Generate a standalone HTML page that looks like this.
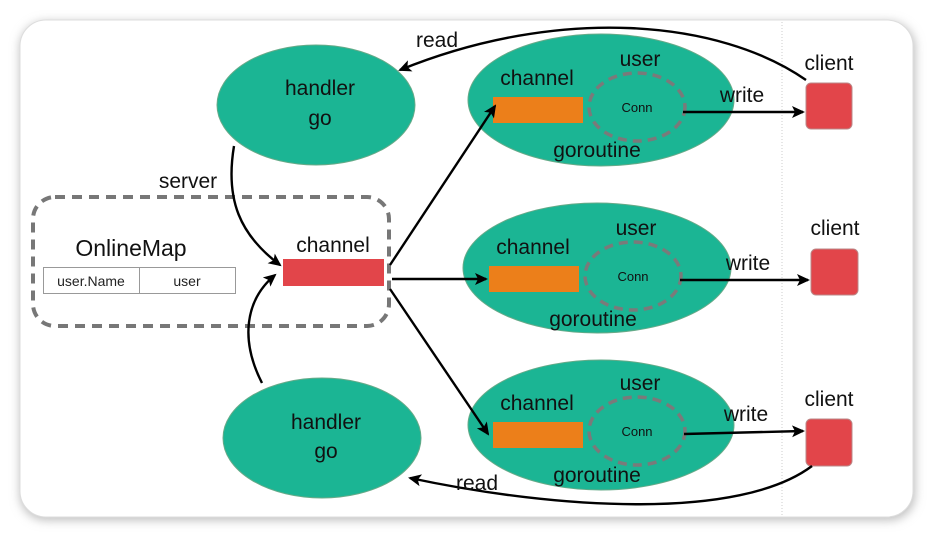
<!DOCTYPE html>
<html><head><meta charset="utf-8"><style>
html,body{margin:0;padding:0;background:#fff;}
svg{display:block;font-family:"Liberation Sans",sans-serif;}
</style></head><body>
<svg width="934" height="538" viewBox="0 0 934 538" xmlns="http://www.w3.org/2000/svg">
<defs>
<filter id="sh" x="-5%" y="-5%" width="110%" height="115%"><feGaussianBlur stdDeviation="5"/></filter>
<marker id="ah" markerWidth="13" markerHeight="12" refX="11" refY="6" orient="auto" markerUnits="userSpaceOnUse"><path d="M0,0 L13,6 L0,12 L3,6 Z" fill="#000"/></marker>
</defs>
<rect x="0" y="0" width="934" height="538" fill="#fff"/>
<rect x="20" y="22" width="895" height="498" rx="26" fill="#bbb" filter="url(#sh)"/>
<rect x="20" y="20" width="893" height="497" rx="26" fill="#fff" stroke="#ddd" stroke-width="1"/>
<line x1="782" y1="22" x2="782" y2="517" stroke="#ccc" stroke-width="1" stroke-dasharray="1,2"/>

<rect x="33" y="197" width="356" height="129" rx="22" fill="none" stroke="#777" stroke-width="4" stroke-dasharray="10,7"/>
<text x="131" y="256" font-size="23" text-anchor="middle" fill="#111">OnlineMap</text>
<rect x="43.5" y="267.5" width="192" height="26" fill="#fff" stroke="#999"/>
<line x1="139.5" y1="267" x2="139.5" y2="294" stroke="#999"/>
<text x="91" y="286" font-size="14" text-anchor="middle" fill="#222">user.Name</text>
<text x="187" y="286" font-size="14" text-anchor="middle" fill="#222">user</text>
<rect x="283" y="259" width="101" height="27" fill="#e2454a"/>
<text x="333" y="252" font-size="21" text-anchor="middle" fill="#111">channel</text>

<ellipse cx="316" cy="105" rx="99" ry="60" fill="#1bb594" stroke="#6a8" stroke-width="1"/>
<text x="320" y="95" font-size="21" text-anchor="middle" fill="#111">handler</text>
<text x="320" y="125" font-size="21" text-anchor="middle" fill="#111">go</text>
<ellipse cx="322" cy="438" rx="99" ry="60" fill="#1bb594" stroke="#6a8" stroke-width="1"/>
<text x="326" y="429" font-size="21" text-anchor="middle" fill="#111">handler</text>
<text x="326" y="458" font-size="21" text-anchor="middle" fill="#111">go</text>

<g>
<ellipse cx="601" cy="100" rx="133" ry="66" fill="#1bb594" stroke="#6a8"/>
<rect x="493" y="97" width="90" height="26" fill="#ec7f1a"/>
<text x="537" y="85" font-size="21" text-anchor="middle" fill="#111">channel</text>
<ellipse cx="637" cy="107" rx="48" ry="34" fill="none" stroke="#7a7a7a" stroke-width="3.5" stroke-dasharray="9,6"/>
<text x="637" y="112" font-size="13" text-anchor="middle" fill="#111">Conn</text>
<text x="640" y="66" font-size="21" text-anchor="middle" fill="#111">user</text>
<text x="597" y="157" font-size="21" text-anchor="middle" fill="#111">goroutine</text>
</g>
<g>
<ellipse cx="597" cy="268" rx="134" ry="65" fill="#1bb594" stroke="#6a8"/>
<rect x="489" y="266" width="90" height="26" fill="#ec7f1a"/>
<text x="533" y="254" font-size="21" text-anchor="middle" fill="#111">channel</text>
<ellipse cx="633" cy="276" rx="48" ry="34" fill="none" stroke="#7a7a7a" stroke-width="3.5" stroke-dasharray="9,6"/>
<text x="633" y="281" font-size="13" text-anchor="middle" fill="#111">Conn</text>
<text x="636" y="235" font-size="21" text-anchor="middle" fill="#111">user</text>
<text x="593" y="326" font-size="21" text-anchor="middle" fill="#111">goroutine</text>
</g>
<g>
<ellipse cx="601" cy="425" rx="133" ry="65" fill="#1bb594" stroke="#6a8"/>
<rect x="493" y="422" width="90" height="26" fill="#ec7f1a"/>
<text x="537" y="410" font-size="21" text-anchor="middle" fill="#111">channel</text>
<ellipse cx="637" cy="431" rx="48" ry="34" fill="none" stroke="#7a7a7a" stroke-width="3.5" stroke-dasharray="9,6"/>
<text x="637" y="436" font-size="13" text-anchor="middle" fill="#111">Conn</text>
<text x="640" y="390" font-size="21" text-anchor="middle" fill="#111">user</text>
<text x="597" y="482" font-size="21" text-anchor="middle" fill="#111">goroutine</text>
</g>

<rect x="806" y="83" width="46" height="46" rx="5" fill="#e2454a" stroke="#b88"/>
<text x="829" y="70" font-size="21" text-anchor="middle" fill="#111">client</text>
<rect x="811" y="249" width="47" height="46" rx="5" fill="#e2454a" stroke="#b88"/>
<text x="835" y="235" font-size="21" text-anchor="middle" fill="#111">client</text>
<rect x="806" y="419" width="46" height="47" rx="5" fill="#e2454a" stroke="#b88"/>
<text x="829" y="406" font-size="21" text-anchor="middle" fill="#111">client</text>

<g fill="none" stroke="#000" stroke-width="2.4" marker-end="url(#ah)">
<path d="M806,80 C720,20 560,5 400,70"/>
<path d="M812,466 C740,520 560,510 410,478"/>
<path d="M234,146 C225,200 240,235 280,265"/>
<path d="M262,383 C240,340 245,300 275,275"/>
<path d="M390,265 L495,106"/>
<path d="M392,279 L486,279"/>
<path d="M390,289 L488,434"/>
<path d="M683,112 L803,112"/>
<path d="M680,280 L808,280"/>
<path d="M684,434 L803,431"/>
</g>
<text x="437" y="47" font-size="21" text-anchor="middle" fill="#111">read</text>
<text x="477" y="490" font-size="21" text-anchor="middle" fill="#111">read</text>
<text x="188" y="188" font-size="21" text-anchor="middle" fill="#111">server</text>
<text x="742" y="102" font-size="21" text-anchor="middle" fill="#111">write</text>
<text x="748" y="270" font-size="21" text-anchor="middle" fill="#111">write</text>
<text x="746" y="421" font-size="21" text-anchor="middle" fill="#111">write</text>
</svg>
</body></html>
